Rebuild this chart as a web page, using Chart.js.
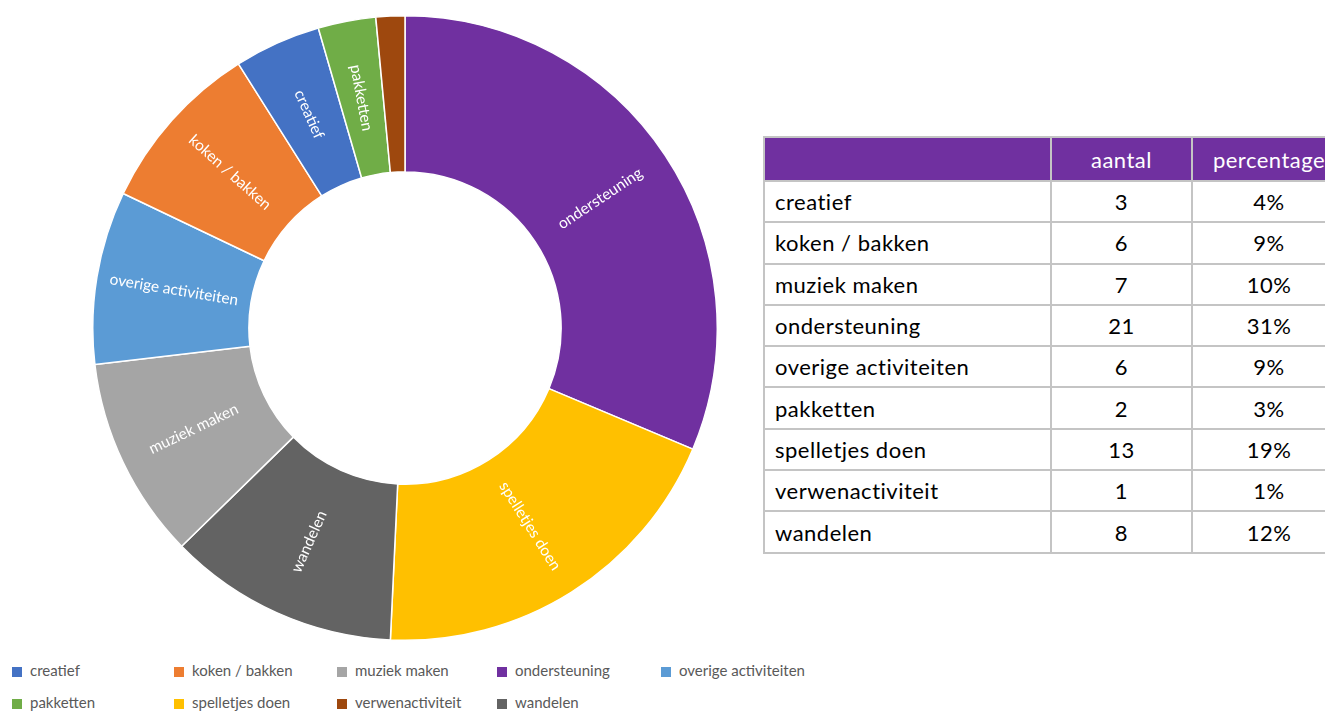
<!DOCTYPE html>
<html>
<head>
<meta charset="utf-8">
<script src="https://cdn.jsdelivr.net/npm/chart.js@4.4.1/dist/chart.umd.min.js"></script>
<style>
  html, body { margin: 0; padding: 0; background: #fff; overflow: hidden; width: 1325px; height: 711px; }
  body { position: relative; font-family: Lato, "Open Sans", sans-serif; }
  #wrap { position: absolute; left: 92px; top: 15px; width: 626px; height: 626px; }
  table { position: absolute; left: 763px; top: 136px; width: 582px; table-layout: fixed; border-collapse: collapse;
          font-size: 22px; letter-spacing: 0.5px; color: #000; }
  td, th { border: 2px solid #c4c4c4; height: 41.3px; padding: 0 0 0 10px; font-weight: normal; box-sizing: border-box; }
  th { background: #7030a0; color: #fff; height: 44px; }
  td.num, th.num { text-align: center; padding: 0; }
  .c0 { width: 287px; } .c1 { width: 141px; } .c2 { width: 154px; }
  #legend { position: absolute; left: 12px; top: 661px; font-size: 15px; color: #595959; }
  .li { position: absolute; white-space: nowrap; }
  .li span.sw { display: inline-block; width: 10px; height: 10px; margin-right: 8px; vertical-align: -1px; }
</style>
</head>
<body>
<div id="wrap"><canvas id="myChart"></canvas></div>
<table id="tbl"></table>
<div id="legend"></div>
<script>
// categories in table / legend order
const categories = ['creatief','koken / bakken','muziek maken','ondersteuning','overige activiteiten','pakketten','spelletjes doen','verwenactiviteit','wandelen'];
const counts     = [3, 6, 7, 21, 6, 2, 13, 1, 8];
const percents   = ['4%','9%','10%','31%','9%','3%','19%','1%','12%'];
const colors     = ['#4472c4','#ed7d31','#a5a5a5','#7030a0','#5b9bd5','#70ad47','#ffc000','#9e480e','#636363'];
// order of the slices clockwise from the top
const sliceOrder = ['ondersteuning','spelletjes doen','wandelen','muziek maken','overige activiteiten','koken / bakken','creatief','pakketten','verwenactiviteit'];
const sliceLabeled = [true,true,true,true,true,true,true,true,false];
const headers = ['', 'aantal', 'percentage'];

const idx = sliceOrder.map(n => categories.indexOf(n));

// table
const tbl = document.getElementById('tbl');
let html = '<tr>' + headers.map((h,i)=>`<th class="c${i} ${i? 'num':''}">${h}</th>`).join('') + '</tr>';
categories.forEach((c,i)=>{
    html += `<tr><td>${c}</td><td class="num">${counts[i]}</td><td class="num">${percents[i]}</td></tr>`;
});
tbl.innerHTML = html;

// legend (two rows of five columns)
const legendX = [0, 162, 325, 485, 649];
const lg = document.getElementById('legend');
categories.forEach((c,i)=>{
    const d = document.createElement('div');
    d.className = 'li';
    d.style.left = legendX[i % 5] + 'px';
    d.style.top = (i < 5 ? 0 : 32) + 'px';
    d.innerHTML = `<span class="sw" style="background:${colors[i]}"></span>${c}`;
    lg.appendChild(d);
});

const sliceLabels = {
    id: 'sliceLabels',
    afterDatasetsDraw(chart) {
        const ctx = chart.ctx;
        const meta = chart.getDatasetMeta(0);
        ctx.save();
        ctx.fillStyle = '#fff';
        ctx.font = '15.5px Lato, "Open Sans", sans-serif';
        ctx.textAlign = 'center';
        ctx.textBaseline = 'middle';
        meta.data.forEach((arc, i) => {
            if (!sliceLabeled[i]) return;
            const p = arc.getProps(['x','y','startAngle','endAngle','innerRadius','outerRadius'], true);
            const a = (p.startAngle + p.endAngle) / 2;
            const r = (p.innerRadius + p.outerRadius) / 2;
            const x = p.x + Math.cos(a) * r;
            const y = p.y + Math.sin(a) * r;
            let rot = a;
            if (Math.cos(a) < 0) rot += Math.PI;
            ctx.save();
            ctx.translate(x, y);
            ctx.rotate(rot);
            ctx.fillText(chart.data.labels[i], 0, 0);
            ctx.restore();
        });
        ctx.restore();
    }
};

new Chart(document.getElementById('myChart'), {
    type: 'doughnut',
    data: {
        labels: sliceOrder,
        datasets: [{
            data: idx.map(i => counts[i]),
            backgroundColor: idx.map(i => colors[i]),
            borderColor: '#fff',
            borderWidth: 1.5,
            hoverOffset: 0
        }]
    },
    options: {
        responsive: true,
        maintainAspectRatio: false,
        animation: false,
        cutout: '50%',
        layout: { padding: 0 },
        plugins: {
            legend: { display: false },
            tooltip: { enabled: false }
        }
    },
    plugins: [sliceLabels]
});
</script>
</body>
</html>
